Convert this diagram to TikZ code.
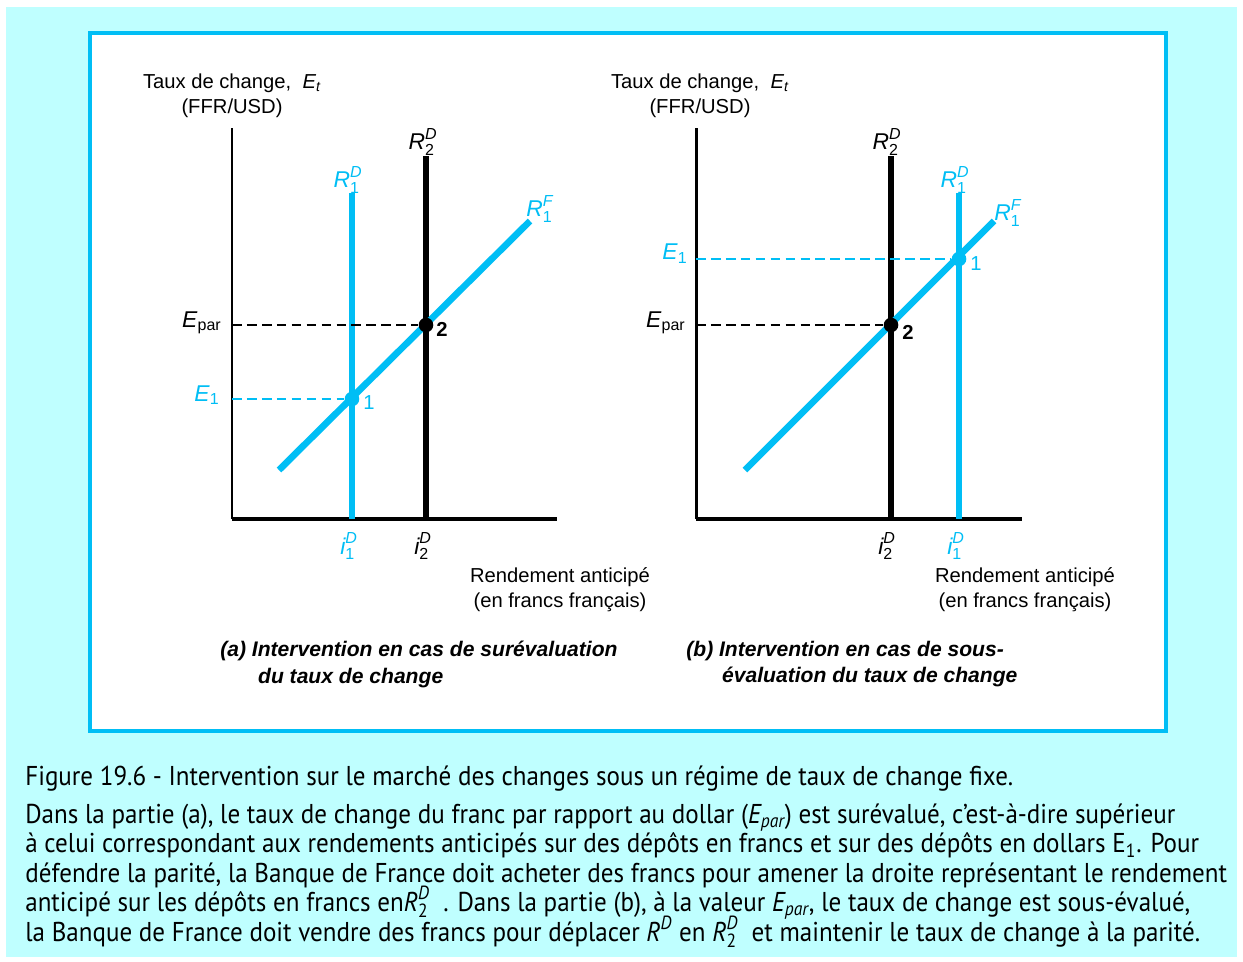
\documentclass[tikz,border=0pt]{standalone}
\usepackage{amsmath}
\usepackage{fontspec}
\setmainfont{Liberation Sans}
\newfontfamily\captfont[FakeStretch=0.92]{PT Sans}
\definecolor{skyline}{RGB}{0,190,245}
\definecolor{paleaqua}{RGB}{191,255,255}
\newcommand\rlab[3]{$\textit{#1}^{\textit{#2}}_{\text{#3}}$}
\newcommand\notefont{\captfont\fontsize{15.5}{16.7}\selectfont\setlength{\lineskiplimit}{-100pt}}

\begin{document}
\begin{tikzpicture}[x=0.02cm, y=-0.02cm,
    every node/.style={inner sep=0pt, font=\fontsize{11.5}{14.2}\selectfont},
    axis/.style={line width=1.7pt},
    baseaxis/.style={line width=2.4pt},
    curve/.style={line width=3.4pt},
    guide/.style={line width=0.8pt, dash pattern=on 5.5pt off 3pt},
    dot/.style={circle, fill, minimum size=8.3pt},
    curvelab/.style={font=\fontsize{13}{15}\selectfont},
    panelcap/.style={align=left, anchor=west, font=\fontsize{12}{15.3}\selectfont\bfseries\itshape},
    note/.style={anchor=base west, align=left, font=\notefont}]
  \useasboundingbox (0,0) rectangle (1243,961);
  \fill[paleaqua] (6,7) rectangle (1237,957);
  \draw[skyline, line width=2.3pt, fill=white] (90,33) rectangle (1166,731);

  % (a) surevaluation
  \coordinate (yl) at (232,128); \coordinate (ol) at (232,519); \coordinate (xl) at (557,519);
  \coordinate (d1l) at (352,193); \coordinate (d2l) at (426,156);
  \coordinate (fl0) at (279,470); \coordinate (fl1) at (530,221);
  \coordinate (epl) at (232,325); \coordinate (e1l) at (232,399);
  \draw[axis] (yl) -- (ol);
  \draw[baseaxis] (ol) -- (xl);
  \draw[curve] (d2l) -- (d2l |- ol);
  \draw[curve, skyline] (d1l) -- (d1l |- ol);
  \draw[line width=3.8pt, skyline] (fl0) -- (fl1);
  \node[dot] (p2l) at (426,325) {};
  \node[dot, skyline] (p1l) at (352,399) {};
  \draw[guide] (epl) -- (p2l);
  \draw[guide, skyline] (e1l) -- (p1l);
  \node[align=center] (tyl) at (232,96) {Taux de change,\ \ \textit{E}$_{\textit{t}}$\\(FFR/USD)};
  \node[anchor=east, curvelab] (epll) at (222,323) {\textit{E}$_{\text{par}}$};
  \node[anchor=east, curvelab, skyline] (e1ll) at (220,395) {\textit{E}$_{\text{1}}$};
  \node (n2l) at (442,329) {\textbf{2}};
  \node[skyline] (n1l) at (369,403) {1};
  \node[curvelab] (r2ll) at (423,142) {\rlab{R}{D}{2}};
  \node[curvelab, skyline] (r1ll) at (348,180) {\rlab{R}{D}{1}};
  \node[curvelab, skyline] (rfll) at (540,209) {\rlab{R}{F}{1}};
  \node[curvelab, skyline] (i1ll) at (349,546) {\rlab{i}{D}{1}};
  \node[curvelab] (i2ll) at (423,546) {\rlab{i}{D}{2}};
  \node[align=center] (txl) at (560,590) {Rendement anticipé\\(en francs français)};
  \node[panelcap] (capl) at (220,664) {(a) Intervention en cas de surévaluation\\\hspace*{21.5pt}du taux de change};

  % (b) sous-evaluation
  \coordinate (yr) at (696,128); \coordinate (or) at (696,519); \coordinate (xr) at (1022,519);
  \coordinate (d2r) at (891,156); \coordinate (d1r) at (959,193);
  \coordinate (fr0) at (745,470); \coordinate (fr1) at (994,221);
  \coordinate (epr) at (696,325); \coordinate (e1r) at (696,259);
  \draw[axis] (yr) -- (or);
  \draw[baseaxis] (or) -- (xr);
  \draw[curve] (d2r) -- (d2r |- or);
  \draw[curve, skyline] (d1r) -- (d1r |- or);
  \draw[line width=3.8pt, skyline] (fr0) -- (fr1);
  \node[dot] (p2r) at (891,325) {};
  \node[dot, skyline] (p1r) at (959,259) {};
  \draw[guide] (epr) -- (p2r);
  \draw[guide, skyline] (e1r) -- (p1r);
  \node[align=center] (tyr) at (700,96) {Taux de change,\ \ \textit{E}$_{\textit{t}}$\\(FFR/USD)};
  \node[anchor=east, curvelab] (eplr) at (686,323) {\textit{E}$_{\text{par}}$};
  \node[anchor=east, curvelab, skyline] (e1lr) at (688,254) {\textit{E}$_{\text{1}}$};
  \node (n2r) at (908,332) {\textbf{2}};
  \node[skyline] (n1r) at (976,264) {1};
  \node[curvelab] (r2lr) at (887,142) {\rlab{R}{D}{2}};
  \node[curvelab, skyline] (r1lr) at (955,180) {\rlab{R}{D}{1}};
  \node[curvelab, skyline] (rflr) at (1008,213) {\rlab{R}{F}{1}};
  \node[curvelab] (i2lr) at (887,546) {\rlab{i}{D}{2}};
  \node[curvelab, skyline] (i1lr) at (956,546) {\rlab{i}{D}{1}};
  \node[align=center] (txr) at (1025,590) {Rendement anticipé\\(en francs français)};
  \node[panelcap] (capr) at (686,664) {(b) Intervention en cas de sous-\\\hspace*{20.4pt}évaluation du taux de change};

  % legende
  \node[note] (fig) at (25,785) {Figure 19.6 - Intervention sur le marché des changes sous un régime de taux de change fixe.};
  \node[note] (expl) at (25,941) {Dans la partie (a), le taux de change du franc par rapport au dollar ($\textit{E}_{\textit{par}}$) est surévalué, c’est-à-dire supérieur\\
    à celui correspondant aux rendements anticipés sur des dépôts en francs et sur des dépôts en dollars E$_{\text{1}}$. Pour\\
    défendre la parité, la Banque de France doit acheter des francs pour amener la droite représentant le rendement\\
    anticipé sur les dépôts en francs en\rlab{R}{D}{2}\ \ . Dans la partie (b), à la valeur $\textit{E}_{\textit{par}}$, le taux de change est sous-évalué,\\
    la Banque de France doit vendre des francs pour déplacer $\textit{R}^{\textit{D}}$ en \rlab{R}{D}{2}\ \ et maintenir le taux de change à la parité.};
\end{tikzpicture}
\end{document}
